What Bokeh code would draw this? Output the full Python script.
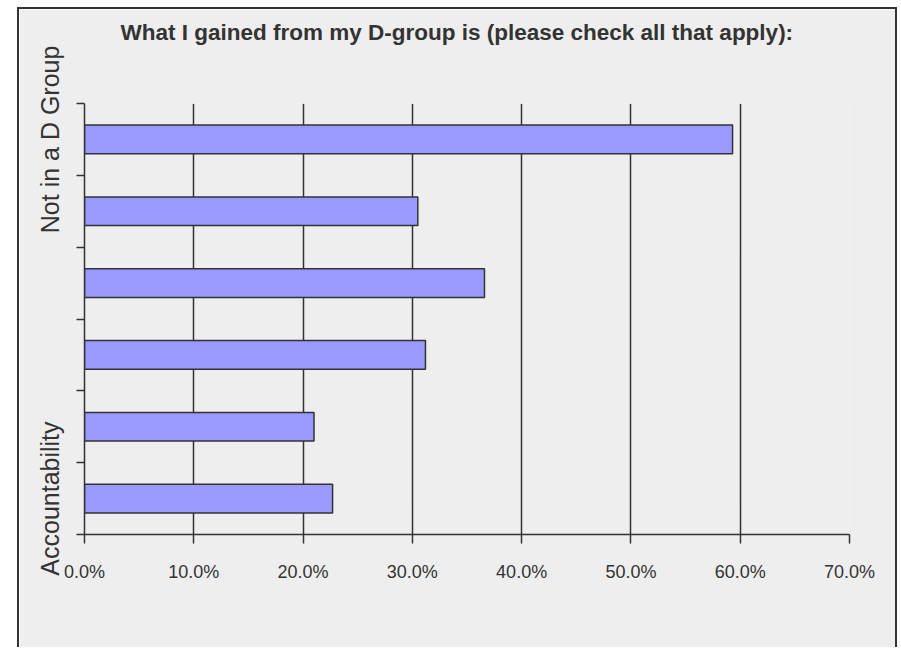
from bokeh.plotting import figure
from bokeh.models import Range1d, FixedTicker, NumeralTickFormatter, ColumnDataSource, LinearAxis
from bokeh.embed import file_html
from bokeh.resources import INLINE

# ---- data ----
title_text = "What I gained from my D-group is (please check all that apply):"
# categories bottom -> top; only two labels are legible in the reference
category_labels = ["Accountability", "", "", "", "", "Not in a D Group"]
values = [0.227, 0.210, 0.312, 0.366, 0.305, 0.593]
x_ticks = [0.0, 0.1, 0.2, 0.3, 0.4, 0.5, 0.6, 0.7]

n = len(values)
centers = [i + 0.5 for i in range(n)]
boundaries = [float(i) for i in range(n + 1)]

src = ColumnDataSource(dict(y=centers, right=values, left=[0.0] * n))

DARK = "#333333"
BG = "#eeeeee"

p = figure(width=880, height=640, output_backend="svg", toolbar_location=None,
           x_range=Range1d(x_ticks[0], x_ticks[-1]), y_range=Range1d(0, n),
           min_border_left=65, min_border_right=50, min_border_top=0,
           min_border_bottom=115)
p.styles = {"border-top": "2px solid #333333", "border-left": "2px solid #333333",
            "border-right": "2px solid #333333",
            "margin-left": "17px", "margin-top": "7px"}

p.background_fill_color = BG
p.border_fill_color = BG
p.outline_line_color = None

p.hbar(y="y", left="left", right="right", height=0.4, source=src,
       fill_color="#9999ff", line_color=DARK, line_width=1.5)

# invisible spacer axis between the title and the plot area
spacer_tick = (x_ticks[-2] + x_ticks[-1]) / 2
spacer = LinearAxis(ticker=FixedTicker(ticks=[spacer_tick], minor_ticks=[]),
                    axis_line_color=BG, axis_line_width=0.5,
                    major_tick_out=39, major_tick_in=0,
                    major_tick_line_color=BG, major_tick_line_width=0.5,
                    minor_tick_out=0, minor_tick_in=0,
                    major_label_overrides={spacer_tick: " "},
                    major_label_text_font_size="8px",
                    major_label_text_color=BG, major_label_standoff=0)
p.add_layout(spacer, "above")

p.title.text = title_text
p.title.align = "left"
p.title.offset = 36
p.title.vertical_align = "bottom"
p.title.standoff = 16
p.title.text_font = "Liberation Sans"
p.title.text_font_size = "22.5px"
p.title.text_font_style = "bold"
p.title.text_color = DARK

# x axis (below)
xa = p.below[0]
xa.ticker = FixedTicker(ticks=x_ticks, minor_ticks=[])
xa.formatter = NumeralTickFormatter(format="0.0%")
xa.major_tick_out = 9
xa.major_tick_in = 0
xa.minor_tick_out = 0
xa.minor_tick_in = 0
xa.axis_line_color = DARK
xa.axis_line_width = 1.5
xa.major_tick_line_color = DARK
xa.major_tick_line_width = 1.5
xa.major_label_text_font = "Liberation Sans"
xa.major_label_text_font_size = "18px"
xa.major_label_text_color = DARK
xa.major_label_standoff = 18

# y axis: labels at category centers, tick marks at category boundaries
ya = p.left[0]
ya.ticker = FixedTicker(ticks=centers, minor_ticks=boundaries)
ya.major_label_overrides = {c: lab for c, lab in zip(centers, category_labels)}
ya.major_label_orientation = "vertical"
ya.major_tick_out = 0
ya.major_tick_in = 0
ya.minor_tick_out = 8
ya.minor_tick_in = 0
ya.minor_tick_line_color = DARK
ya.minor_tick_line_width = 1.5
ya.axis_line_color = DARK
ya.axis_line_width = 1.5
ya.major_label_text_font = "Liberation Sans"
ya.major_label_text_font_size = "25px"
ya.major_label_text_color = DARK
ya.major_label_standoff = 12

# grid
p.xgrid.ticker = FixedTicker(ticks=x_ticks)
p.xgrid.grid_line_color = DARK
p.xgrid.grid_line_width = 1.5
p.ygrid.visible = False

open("out.html", "w").write(file_html(p, INLINE))
